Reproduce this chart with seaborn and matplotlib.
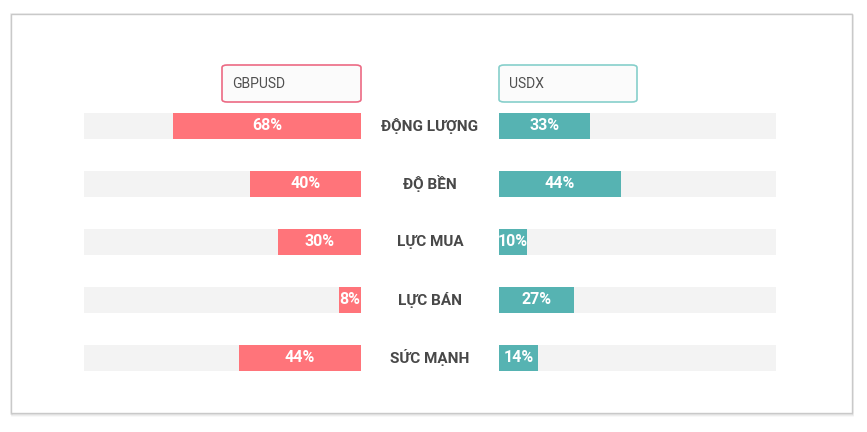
import matplotlib
matplotlib.use("Agg")
import matplotlib.pyplot as plt
import seaborn as sns
import pandas as pd
from matplotlib.patches import FancyBboxPatch, Rectangle
from matplotlib.transforms import blended_transform_factory

categories = ["ĐỘNG LƯỢNG", "ĐỘ BỀN", "LỰC MUA", "LỰC BÁN", "SỨC MẠNH"]
gbpusd = [68, 40, 30, 8, 44]
usdx = [33, 44, 10, 27, 14]
left_name = "GBPUSD"
right_name = "USDX"

RED = "#FF747A"
TEAL = "#56B3B2"
TRACK = "#F3F3F3"

sns.set_theme(style="white")
plt.rcParams["font.family"] = ["Roboto", "DejaVu Sans"]

W, H = 867, 432
fig = plt.figure(figsize=(W / 100, H / 100), dpi=100)
fig.patch.set_facecolor("white")

def fx(px):
    return px / W

def fy(py):
    return 1 - py / H

# card with shadow
for i, a in enumerate([0.07, 0.05, 0.03]):
    fig.patches.append(Rectangle((fx(11 + i * 0.5), fy(414 + i)), fx(841), 400 / H,
                                 transform=fig.transFigure, facecolor="none",
                                 edgecolor=(0, 0, 0, a), lw=1.2, zorder=-3))
fig.patches.append(Rectangle((fx(11), fy(413)), fx(841), 399 / H,
                             transform=fig.transFigure, facecolor="white",
                             edgecolor="#C9C9C9", lw=1.0, zorder=-2))

df = pd.DataFrame({"cat": categories, "gbp": gbpusd, "usd": usdx, "full": [100] * len(categories)})

bar_w = 26 / 58
y_top, y_bot = 97, 387
ax_l = fig.add_axes([fx(84), fy(y_bot), fx(277), (y_bot - y_top) / H])
ax_r = fig.add_axes([fx(499), fy(y_bot), fx(277), (y_bot - y_top) / H])

for ax, col, color in [(ax_l, "gbp", RED), (ax_r, "usd", TEAL)]:
    sns.barplot(data=df, y="cat", x="full", color=TRACK, width=bar_w, ax=ax,
                orient="h", saturation=1, zorder=2, linewidth=0)
    sns.barplot(data=df, y="cat", x=col, color=color, width=bar_w, ax=ax,
                orient="h", saturation=1, zorder=3, linewidth=0)
    ax.set_xlim(0, 100)
    ax.set_ylim(len(categories) - 0.5, -0.5)
    ax.axis("off")
    ax.patch.set_alpha(0)
    for i, v in enumerate(df[col]):
        ax.text(v / 2, i, f"{v}%", ha="center", va="center", color="white",
                fontsize=11.5, fontweight="bold", zorder=5)

ax_l.invert_xaxis()

tr = blended_transform_factory(fig.transFigure, ax_l.transData)
for i, c in enumerate(categories):
    fig.text(fx(430), i, c, transform=tr, ha="center", va="center",
             fontsize=11, fontweight="bold", color="#484848")

# header boxes
for x0, x1, name, ec in [(222, 361, left_name, "#EC6A84"), (499, 637, right_name, "#86CFCB")]:
    box = FancyBboxPatch((fx(x0), fy(102)), fx(x1 - x0), 37 / H,
                         boxstyle="round,pad=0,rounding_size=0.006",
                         transform=fig.transFigure, facecolor="#FBFBFB",
                         edgecolor=ec, lw=1.2, zorder=3)
    fig.patches.append(box)
    fig.text(fx(x0 + 10), fy(84), name, ha="left", va="center",
             fontsize=10, color="#505050", zorder=4)

fig.savefig("out.png", dpi=100)
